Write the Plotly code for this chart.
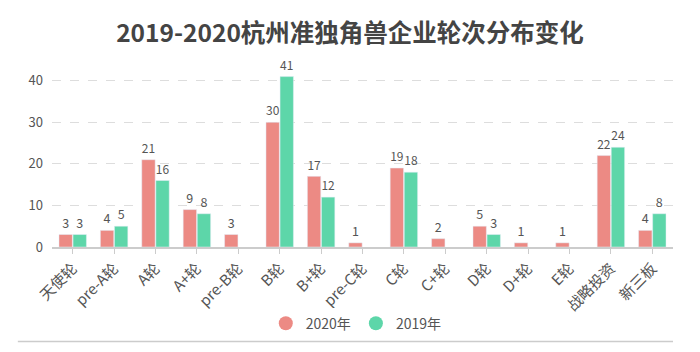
import plotly.graph_objects as go

categories = ["天使轮", "pre-A轮", "A轮", "A+轮", "pre-B轮", "B轮", "B+轮", "pre-C轮",
              "C轮", "C+轮", "D轮", "D+轮", "E轮", "战略投资", "新三板"]
values_2020 = [3, 4, 21, 9, 3, 30, 17, 1, 19, 2, 5, 1, 1, 22, 4]
values_2019 = [3, 5, 16, 8, None, 41, 12, None, 18, None, 3, None, None, 24, 8]
series_names = ["2020年", "2019年"]
colors = ["#EC8A84", "#5DD6A9"]
title = "2019-2020杭州准独角兽企业轮次分布变化"

FONT = "Noto Sans CJK SC, Noto Sans, sans-serif"

fig = go.Figure()
for name, vals, col in zip(series_names, [values_2020, values_2019], colors):
    fig.add_trace(go.Bar(
        x=categories, y=vals, name=name, marker_color=col,
        text=[("" if v is None else str(v)) for v in vals],
        textposition="outside", cliponaxis=False, showlegend=False,
        textfont=dict(size=12.5, color="#555555", family=FONT),
    ))
# legend entries with circle markers
for name, col in zip(series_names, colors):
    fig.add_trace(go.Scatter(
        x=[None], y=[None], mode="markers", name=name,
        marker=dict(symbol="circle", size=14, color=col),
    ))

fig.update_layout(
    width=700, height=352,
    margin=dict(l=52, r=27, t=60, b=103),
    paper_bgcolor="white", plot_bgcolor="white",
    barmode="group", bargap=0.32, bargroupgap=0.05,
    font=dict(family=FONT, color="#555555"),
    title=dict(text="<b>" + title + "</b>", x=0.5, xanchor="center", y=0.905, yanchor="middle",
               font=dict(size=24.5, color="#444444", family=FONT)),
    showlegend=True,
    legend=dict(orientation="h", x=0.49, xanchor="center", y=-0.41, yanchor="middle",
                font=dict(size=14, color="#555555"), itemwidth=30, tracegroupgap=0),
    shapes=[dict(type="line", xref="paper", yref="paper", x0=-0.055, x1=1.0,
                 y0=-0.505, y1=-0.505, line=dict(color="#cccccc", width=1.5))],
)
fig.update_xaxes(
    tickangle=-45, tickfont=dict(size=15, color="#555555"),
    showline=True, linecolor="#cccccc", linewidth=1.5,
    ticks="outside", ticklen=5, tickcolor="#cccccc",
    showgrid=False,
)
fig.update_yaxes(
    range=[0, 45], tickvals=[0, 10, 20, 30, 40],
    tickfont=dict(size=13, color="#555555"),
    showgrid=True, gridcolor="#dddddd", griddash="dash", gridwidth=1,
    zeroline=False, showline=False, ticks="", ticklabelstandoff=8,
)

fig.write_html("out.html")
